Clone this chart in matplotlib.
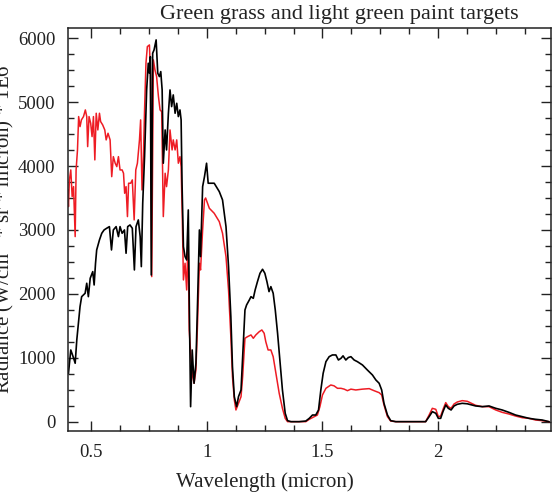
import numpy as np
import matplotlib.pyplot as plt
from matplotlib.ticker import MultipleLocator

# Values
black_x = [0.402, 0.412, 0.424, 0.431, 0.438, 0.445, 0.452, 0.459, 0.474, 0.481,
           0.488, 0.496, 0.507, 0.513, 0.519, 0.524, 0.536, 0.546, 0.556, 0.567,
           0.579, 0.588, 0.596, 0.608, 0.618, 0.625, 0.634, 0.644, 0.651, 0.658,
           0.668, 0.678, 0.687, 0.694, 0.704, 0.712, 0.717, 0.723, 0.731, 0.740,
           0.747, 0.752, 0.756, 0.760, 0.766, 0.772, 0.781, 0.788, 0.795, 0.801,
           0.807, 0.812, 0.820, 0.826, 0.834, 0.841, 0.848, 0.855, 0.863, 0.870,
           0.877, 0.884, 0.889, 0.893, 0.899, 0.906, 0.913, 0.920, 0.924, 0.930,
           0.937, 0.945, 0.953, 0.960, 0.968, 0.973, 0.982, 0.990, 0.999, 1.006,
           1.021, 1.032, 1.054, 1.068, 1.083, 1.094, 1.104, 1.111, 1.119, 1.129,
           1.137, 1.148, 1.155, 1.165, 1.172, 1.184, 1.191, 1.201, 1.209, 1.219,
           1.230, 1.241, 1.251, 1.260, 1.269, 1.277, 1.287, 1.296, 1.306, 1.316,
           1.327, 1.339, 1.349, 1.364, 1.399, 1.428, 1.443, 1.457, 1.471, 1.483,
           1.493, 1.503, 1.515, 1.529, 1.543, 1.558, 1.569, 1.580, 1.589, 1.601,
           1.612, 1.623, 1.637, 1.651, 1.673, 1.694, 1.716, 1.731, 1.745, 1.756,
           1.766, 1.781, 1.795, 1.817, 1.946, 1.961, 1.975, 1.990, 2.001, 2.011,
           2.021, 2.033, 2.044, 2.056, 2.069, 2.083, 2.104, 2.126, 2.162, 2.191,
           2.220, 2.249, 2.277, 2.306, 2.335, 2.364, 2.393, 2.421, 2.450, 2.479]
black_y = [757, 1122, 997, 914, 1279, 1540, 1800, 1956, 2009, 2166,
           1956, 2244, 2348, 2139, 2479, 2687, 2844, 2948, 3000, 3026,
           3052, 2687, 3000, 3052, 2896, 3052, 2948, 3000, 2635, 3052,
           3078, 3026, 2374, 3052, 3157, 2896, 2426, 3418, 4147, 5191,
           5609, 5452, 5712, 2296, 5765, 5817, 5974, 5452, 5400, 5478,
           5191, 4044, 4565, 4252, 4826, 5191, 4930, 5113, 4826, 4982,
           4774, 4878, 4722, 3731, 2739, 2583, 2530, 3313, 1956, 235,
           1122, 601, 914, 1853, 3000, 2583, 3678, 3834, 4044, 3731,
           3731, 3731, 3600, 3470, 3052, 2426, 1643, 861, 391, 235,
           391, 496, 1017, 1748, 1826, 1905, 1956, 1930, 2061, 2191,
           2322, 2385, 2322, 2191, 2035, 2113, 2009, 1748, 1383, 965,
           496, 131, 16, 0, 0, 10, 52, 104, 104, 183,
           496, 757, 939, 1017, 1044, 1044, 965, 991, 1030, 965,
           1004, 1017, 965, 939, 887, 809, 731, 652, 601, 496,
           287, 104, 16, 0, 0, 78, 157, 131, 52, 52,
           157, 261, 209, 183, 246, 272, 287, 280, 246, 235,
           246, 209, 183, 146, 104, 78, 52, 37, 26, 0]

red_x = [0.398, 0.402, 0.406, 0.412, 0.418, 0.424, 0.431, 0.435, 0.441, 0.446,
         0.452, 0.458, 0.467, 0.475, 0.481, 0.485, 0.491, 0.498, 0.504, 0.510,
         0.516, 0.522, 0.529, 0.536, 0.541, 0.550, 0.559, 0.565, 0.573, 0.582,
         0.589, 0.596, 0.604, 0.611, 0.618, 0.625, 0.634, 0.640, 0.645, 0.651,
         0.657, 0.662, 0.671, 0.678, 0.686, 0.693, 0.700, 0.709, 0.714, 0.720,
         0.726, 0.731, 0.737, 0.743, 0.752, 0.757, 0.762, 0.769, 0.776, 0.783,
         0.791, 0.798, 0.805, 0.812, 0.820, 0.826, 0.834, 0.841, 0.850, 0.855,
         0.863, 0.870, 0.877, 0.884, 0.889, 0.894, 0.899, 0.906, 0.913, 0.919,
         0.924, 0.933, 0.939, 0.945, 0.953, 0.960, 0.968, 0.973, 0.982, 0.990,
         0.995, 1.011, 1.032, 1.054, 1.068, 1.083, 1.094, 1.104, 1.111, 1.119,
         1.126, 1.137, 1.148, 1.155, 1.165, 1.176, 1.191, 1.201, 1.212, 1.227,
         1.238, 1.248, 1.255, 1.265, 1.277, 1.287, 1.299, 1.313, 1.327, 1.339,
         1.349, 1.428, 1.443, 1.464, 1.478, 1.489, 1.500, 1.515, 1.536, 1.550,
         1.565, 1.580, 1.594, 1.608, 1.623, 1.644, 1.673, 1.702, 1.723, 1.745,
         1.756, 1.766, 1.781, 1.795, 1.817, 1.946, 1.961, 1.975, 1.990, 2.001,
         2.011, 2.023, 2.033, 2.044, 2.056, 2.069, 2.083, 2.104, 2.126, 2.162,
         2.191, 2.220, 2.249, 2.277, 2.306, 2.335, 2.364, 2.393, 2.421, 2.450,
         2.479]
red_y = [3626, 3365, 3783, 3939, 3522, 3678, 2896, 3939, 4252, 4774,
         4617, 4722, 4774, 4878, 4774, 4304, 4774, 4670, 4461, 4774,
         4096, 4826, 4565, 4826, 4696, 4643, 4565, 4409, 4513, 4409,
         3834, 4147, 4044, 3991, 4147, 3939, 3939, 3887, 3574, 3678,
         3209, 3731, 3731, 3783, 3157, 3939, 4044, 4409, 4722, 3626,
         4147, 4878, 5609, 5869, 5895, 5400, 2270, 5661, 5504, 5400,
         5087, 4878, 4852, 3209, 3887, 3678, 3939, 4565, 4252, 4409,
         4252, 4409, 4044, 4147, 3991, 3209, 2218, 2479, 2061, 2896,
         1435, 914, 704, 601, 809, 1540, 2479, 2374, 3000, 3470,
         3500, 3339, 3261, 3130, 2948, 2583, 2061, 1330, 704, 340,
         183, 287, 391, 704, 1305, 1330, 1357, 1305, 1357, 1409,
         1435, 1383, 1252, 1122, 1122, 1017, 757, 444, 209, 52,
         0, 0, 37, 78, 104, 235, 418, 522, 574, 561,
         522, 522, 509, 485, 509, 496, 509, 517, 485, 454,
         418, 261, 78, 10, 0, 0, 104, 209, 193, 78,
         88, 209, 298, 235, 209, 277, 308, 329, 319, 256,
         235, 235, 183, 146, 120, 88, 62, 52, 26, 16,
         0]

plt.rcParams['font.family'] = ['Liberation Serif', 'DejaVu Serif']

fig = plt.figure(figsize=(5.56, 4.98), dpi=100)
ax = fig.add_axes([68 / 556, 1 - 431 / 498, (551 - 68) / 556, (431 - 28) / 498])

ax.plot(red_x, red_y, color='#ee1c24', lw=1.1)
ax.plot(black_x, black_y, color='black', lw=1.2)

ax.set_xlim(0.4, 2.488)
ax.set_ylim(-146, 6160)

ax.xaxis.set_major_locator(MultipleLocator(0.5))
ax.xaxis.set_minor_locator(MultipleLocator(0.125))
ax.yaxis.set_major_locator(MultipleLocator(1000))
ax.yaxis.set_minor_locator(MultipleLocator(250))
ax.set_xticks([0.5, 1, 1.5, 2])
ax.set_xticklabels(['0.5', '1', '1.5', '2'])

ax.tick_params(which='both', direction='in', top=True, right=True, width=1.0,
               labelsize=13.5, pad=9, colors='#222222', labelcolor='#222222')
ax.tick_params(which='major', length=7)
ax.tick_params(which='minor', length=4)
for s in ax.spines.values():
    s.set_linewidth(1.1)
    s.set_color('#222222')

fig.text(339 / 556, 1 - 14 / 498, 'Green grass and light green paint targets',
         ha='center', va='center', fontsize=16, color='#222222')
fig.text(265 / 556, 1 - 482 / 498, 'Wavelength (micron)',
         ha='center', va='center', fontsize=15, color='#222222')
fig.text(2 / 556, 1 - 229.5 / 498, 'Radiance (W/cm$^2$ * sr * micron) * 1E6',
         ha='center', va='center', rotation=90, fontsize=15, color='#222222')

fig.savefig('out.png', dpi=100)
